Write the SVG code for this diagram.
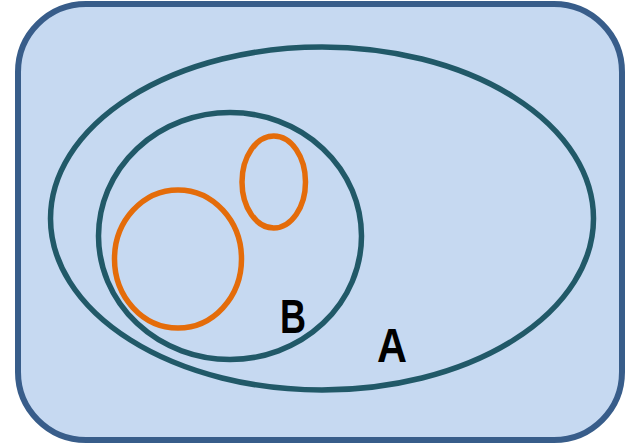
<svg xmlns="http://www.w3.org/2000/svg" width="625" height="443" viewBox="0 0 625 443">
<style>
.set{fill:none;stroke:#215968;stroke-width:5.5}
.sub{fill:none;stroke:#e46c0a;stroke-width:5.5}
.lbl{font-family:"Liberation Sans",Arial,sans-serif;font-size:48px;font-weight:bold;fill:#000}
</style>
<g id="universe"><rect x="18" y="4" width="604" height="436" rx="68" ry="68" fill="#c6d9f1" stroke="#385d8a" stroke-width="6"/></g>
<g id="setA"><ellipse class="set" cx="322" cy="218.5" rx="271.5" ry="171.5"/><text class="lbl" x="392" y="362" text-anchor="middle" textLength="30" lengthAdjust="spacingAndGlyphs">A</text></g>
<g id="setB"><ellipse class="set" cx="230" cy="236" rx="131.5" ry="123.5"/><text class="lbl" x="293" y="333" text-anchor="middle" textLength="26" lengthAdjust="spacingAndGlyphs">B</text></g>
<g id="subset1"><ellipse class="sub" cx="178" cy="259" rx="63.5" ry="69"/></g>
<g id="subset2"><ellipse class="sub" cx="273.75" cy="182" rx="31.75" ry="46"/></g>
<g id="connectors"></g>
</svg>
